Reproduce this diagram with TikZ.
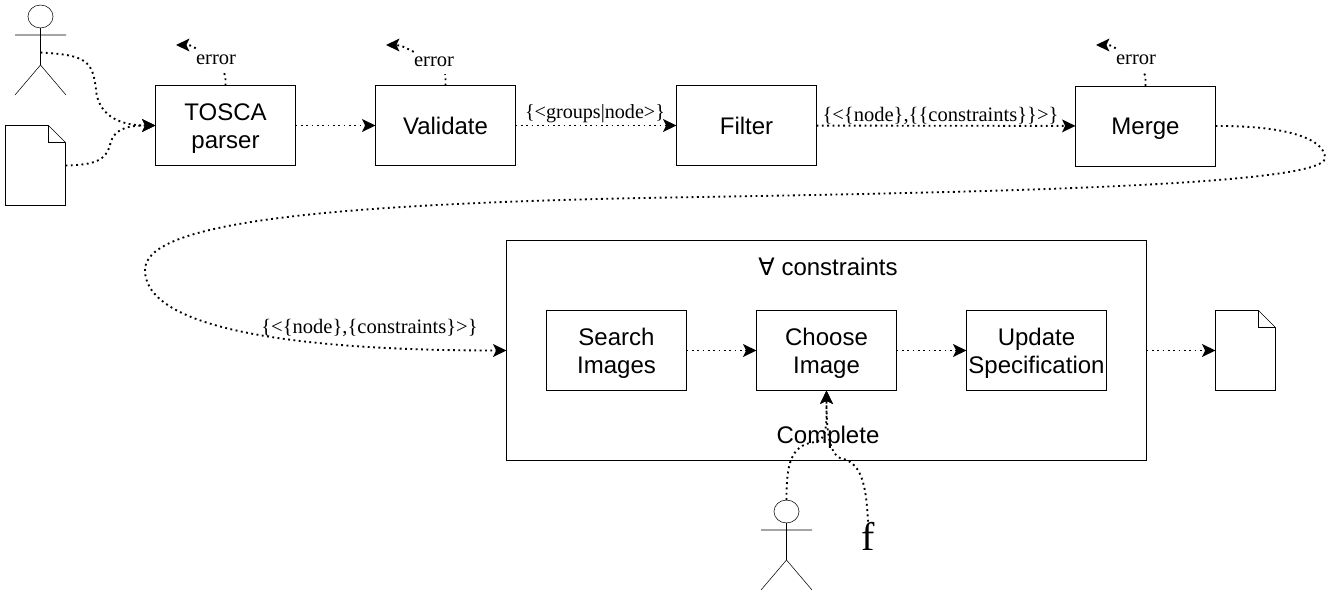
\documentclass[tikz,border=0pt]{standalone}
\usepackage{fontspec}
\setmainfont{Liberation Serif}
\setsansfont{Liberation Sans}
\newfontfamily\symfont{DejaVu Sans}
\usetikzlibrary{arrows.meta}
\tikzset{
  stepbox/.style={draw,inner sep=0pt,outer sep=0pt,minimum width=105pt,minimum height=60pt,align=center,
    font=\sffamily\fontsize{18}{21}\selectfont,text height=13pt,text depth=.2pt},
  twolines/.style={text height=36pt,text depth=1.5pt},
  heading/.style={inner sep=0pt,font=\sffamily\fontsize{18}{21}\selectfont},
  datalabel/.style={inner sep=0pt,font=\fontsize{15.4}{18}\selectfont},
  errlabel/.style={inner sep=0pt,minimum width=30pt,minimum height=18pt,font=\fontsize{15.4}{18}\selectfont},
  flow/.style={line width=1.4pt,dash pattern=on 1.4pt off 2.6pt},
  flowto/.style={flow,-{Stealth[length=10pt,width=9.5pt,inset=2.2pt]}},
  actor/.pic={
    \draw (0,-11.5) ellipse [x radius=9.4pt,y radius=8.6pt];
    \draw (0,0) -- (0,37) (-25.5,7) -- (25.5,7) (-25.5,67) -- (0,37) -- (25.5,67);
    \coordinate (-top) at (0,-23);
    \coordinate (-body) at (0,24.5);
  },
  docfile/.pic={
    \draw (0,0) -- (43,0) -- (60,17) -- (60,80) -- (0,80) -- cycle (43,0) -- (43,17) -- (60,17);
    \coordinate (-west) at (0,40);
    \coordinate (-east) at (60,40);
  }
}
\begin{document}
\begin{tikzpicture}[x=.75pt,y=-.75pt]
  \useasboundingbox (0,0) rectangle (1332,596);

  \pic (user) at (40.5,28) {actor};
  \pic (input) at (5.5,125.5) {docfile};
  \pic (output) at (1215.5,310.5) {docfile};
  \pic (admin) at (786.5,523) {actor};

  \node[stepbox,twolines] (parser) at (225.5,125.5) {TOSCA\\parser};
  \node[stepbox] (validate) at (445.5,125.5) {Validate};
  \node[stepbox] (filter) at (746.5,125.5) {Filter};
  \node[stepbox] (merge) at (1145.5,126) {Merge};

  \node[stepbox,minimum width=480pt,minimum height=165pt] (loop) at (826.5,350.5) {};
  \node[stepbox,twolines] (search) at (616.5,350.5) {Search\\Images};
  \node[stepbox,twolines] (choose) at (826.5,350.5) {Choose\\Image};
  \node[stepbox,twolines] (update) at (1036.5,350.5) {Update\\Specification};

  \node[heading] (forall) at (828,267) {{\symfont ∀} constraints};
  \node[heading] (complete) at (828,437) {Complete};
  \node[inner sep=0pt,font=\fontsize{30}{30}\selectfont] (func) at (868,536) {f};

  \node[errlabel] (err1) at (216,60) {error};
  \node[errlabel] (err2) at (434,62) {error};
  \node[errlabel] (err3) at (1136,60) {error};
  \coordinate (end1) at (176,45);
  \coordinate (end2) at (386,45);
  \coordinate (end3) at (1096,45);

  \node[datalabel,font=\fontsize{15.1}{18}\selectfont] (lab1) at (595,113.5) {\{<groups|node>\}};
  \node[datalabel] (lab2) at (940.5,115.5) {\{<\{node\},\{\{constraints\}\}>\}};
  \node[datalabel] (lab3) at (369.5,327.5) {\{<\{node\},\{constraints\}>\}};

  \draw[flowto] (user-body) .. controls (85,55) and (93,60) .. (96,90)
    .. controls (98,112) and (115,125.5) .. (parser.west);
  \draw[flowto] (input-east) .. controls (95,165) and (106,160) .. (110,145)
    .. controls (113,130) and (125,125.5) .. (parser.west);

  \draw[flow] (parser.north) .. controls (225.5,75) .. (err1);
  \draw[flowto] (err1) .. controls (190,45) .. (end1);
  \draw[flow] (validate.north) .. controls (445.5,75) .. (err2);
  \draw[flowto] (err2) .. controls (400,45) .. (end2);
  \draw[flow] (merge.north) .. controls (1145.5,75) .. (err3);
  \draw[flowto] (err3) .. controls (1110,45) .. (end3);

  \draw[flowto] (parser) -- (validate);
  \draw[flowto] (validate) -- (filter);
  \draw[flowto] (filter) -- (merge);

  \draw[flowto] (merge.east) .. controls (1290,125.5) and (1325,140) .. (1325,158)
    .. controls (1325,185) and (1000,192) .. (700,197)
    .. controls (300,203) and (145,225) .. (145,270)
    .. controls (145,330) and (300,350.5) .. (loop.west);

  \draw[flowto] (search) -- (choose);
  \draw[flowto] (choose) -- (update);
  \draw[flowto] (loop.east) -- (output-west);

  \draw[flowto] (admin-top) .. controls (786.5,465) and (790,445) .. (815,442)
    .. controls (828,440) and (826.5,420) .. (choose.south);
  \draw[flowto] (func.north) .. controls (866,480) and (860,462) .. (840,458)
    .. controls (827,452) and (826.5,420) .. (choose.south);
\end{tikzpicture}
\end{document}
